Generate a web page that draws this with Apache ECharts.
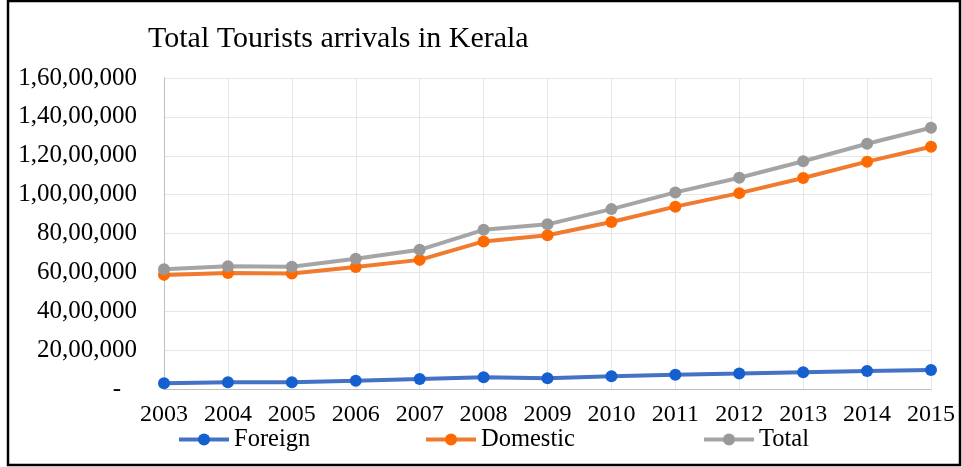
<!DOCTYPE html>
<html>
<head>
<meta charset="utf-8">
<script src="https://cdn.jsdelivr.net/npm/echarts@6/dist/echarts.min.js"></script>
<style>
  html, body { margin: 0; padding: 0; background: #fff; }
  #chart { width: 962px; height: 467px; }
</style>
</head>
<body>
<div id="chart"></div>
<script>
// Tourist arrivals in Kerala, 2003-2015
const years = ['2003','2004','2005','2006','2007','2008','2009','2010','2011','2012','2013','2014','2015'];
const foreign = [294621, 345546, 346499, 428534, 515808, 598929, 557258, 659265, 732985, 793696, 858143, 923366, 977479];
const domestic = [5871228, 5972182, 5946423, 6271724, 6642941, 7591250, 7913537, 8595075, 9381455, 10076854, 10857811, 11695411, 12465571];
const total = [6165849, 6317728, 6292922, 6700258, 7158749, 8190179, 8470795, 9254340, 10114440, 10870550, 11715954, 12618777, 13443050];

const FONT = "'Liberation Serif', 'Times New Roman', serif";

// Indian digit grouping: 1,60,00,000
function indian(v) {
  if (v === 0) return '{z|-}';
  const s = String(Math.round(v));
  if (s.length <= 3) return s;
  const last3 = s.slice(-3);
  const rest = s.slice(0, -3).replace(/\B(?=(\d{2})+(?!\d))/g, ',');
  return rest + ',' + last3;
}

function lineSeries(name, data, lineColor, dotColor) {
  return {
    name, type: 'line', data,
    symbol: 'circle', symbolSize: 12,
    lineStyle: { color: lineColor, width: 4 },
    itemStyle: { color: dotColor, borderColor: dotColor, borderWidth: 0 },
    emphasis: { disabled: true }
  };
}

function legendAt(name, left) {
  return {
    data: [name], left, top: 427, padding: 0,
    itemWidth: 50, itemHeight: 15, itemGap: 0,
    lineStyle: { width: 4 },
    textStyle: { fontFamily: FONT, fontSize: 24.5, color: '#000' }
  };
}

const chart = echarts.init(document.getElementById('chart'));
chart.setOption({
  animation: false,
  backgroundColor: '#fff',
  title: {
    text: 'Total Tourists arrivals in Kerala',
    left: 143, top: 19,
    textStyle: { fontFamily: FONT, fontSize: 30, fontWeight: 'normal', color: '#000' }
  },
  legend: [
    legendAt('Foreign', 177),
    legendAt('Domestic', 424),
    legendAt('Total', 702)
  ],
  grid: { left: 164, right: 31, top: 78, bottom: 78 },
  xAxis: {
    type: 'category', data: years, boundaryGap: false,
    axisLine: { show: true, lineStyle: { color: '#bfbfbf', width: 1 } },
    axisTick: { show: false },
    splitLine: { show: true, lineStyle: { color: '#e6e6e6', width: 1 } },
    axisLabel: { fontFamily: FONT, fontSize: 24, color: '#000', margin: 14 }
  },
  yAxis: {
    type: 'value', min: 0, max: 16000000, interval: 2000000,
    axisLine: { show: true, lineStyle: { color: '#bfbfbf', width: 1 } },
    axisTick: { show: false },
    splitLine: { show: true, lineStyle: { color: '#e6e6e6', width: 1 } },
    axisLabel: {
      fontFamily: FONT, fontSize: 25, color: '#000', margin: 27,
      formatter: indian,
      rich: { z: { fontFamily: FONT, fontSize: 25, color: '#000', padding: [0, 16, 0, 0] } }
    }
  },
  series: [
    lineSeries('Foreign', foreign, '#4472C4', '#1560D0'),
    lineSeries('Domestic', domestic, '#F07A2E', '#FF6A00'),
    lineSeries('Total', total, '#A5A5A5', '#999999')
  ],
  graphic: [{
    type: 'rect',
    shape: { x: 8, y: 1, width: 952, height: 464 },
    style: { fill: 'none', stroke: '#000', lineWidth: 2.5 },
    silent: true
  }]
});
</script>
</body>
</html>
